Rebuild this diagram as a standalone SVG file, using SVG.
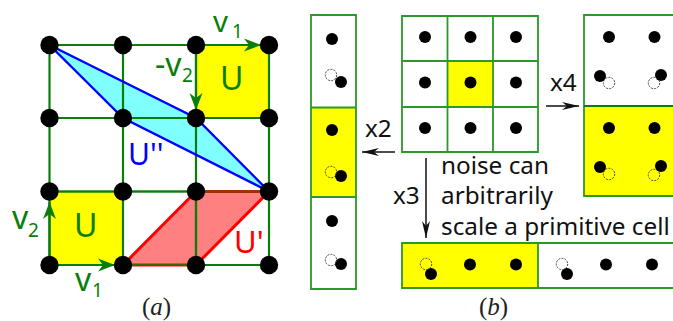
<svg xmlns="http://www.w3.org/2000/svg" width="673" height="321" viewBox="0 0 673 321">
<style>
.g{stroke:#0a7d0a;stroke-width:2.200;fill:none}
.c{stroke:#2b982b;stroke-width:1.800;fill:none}
.d{fill:#000}
.h{fill:none;stroke:#333;stroke-width:.9;stroke-dasharray:2 1.200}
.y{fill:#ffff00}
.t{font-family:"Noto Sans","Open Sans",sans-serif;font-size:24.300px;fill:#111}
.v{font-family:"Noto Sans","Open Sans",sans-serif;fill:#0a7d0a}
.s{font-family:"Liberation Serif",serif;font-size:25px;fill:#222}
.a{stroke:#111;stroke-width:1.500;fill:none}
.r{stroke:#0a7d0a;stroke-width:2.200}
</style>
<defs>
<marker id="ga" markerWidth="18" markerHeight="14" refX="17" refY="7" orient="auto" markerUnits="userSpaceOnUse"><path d="M0 .5L17 7L0 13.500L5 7Z" fill="#0a7d0a"/></marker>
<marker id="ka" markerWidth="18" markerHeight="10" refX="17" refY="5" orient="auto" markerUnits="userSpaceOnUse"><path d="M0 1L17 5L0 9L5 5Z" fill="#111"/></marker>
</defs>
<g id="panel-a-fills">
<rect class="y" x="196" y="45" width="73" height="73"/>
<rect class="y" x="49.500" y="191.500" width="73.500" height="73.500"/>
<polygon points="123,265 196,191.500 269,191.500 196,265" fill="#ff8080"/>
<polygon points="49.500,45 196,118 269,191.500 123,118" fill="#80ffff"/>
</g>
<g id="panel-a-grid" class="g">
<path d="M49.500 45H269M49.500 118H269M49.500 191.500H269M49.500 265H269M49.500 45V265M123 45V265M196 45V265M269 45V265"/>
</g>
<g id="connectors">
<polygon points="49.500,45 196,118 269,191.500 123,118" fill="none" stroke="#0000ff" stroke-width="2.400"/>
<polygon points="123,265 196,191.500 269,191.500 196,265" fill="none" stroke="#ff0000" stroke-width="3"/>
<path d="M49.500 191.500H269M49.500 265H269M196 191.500V265" class="g" opacity=".8"/>
<path d="M196 45H261" class="r" marker-end="url(#ga)"/>
<path d="M196 45V110" class="r" marker-end="url(#ga)"/>
<path d="M49.500 265V202" class="r" marker-end="url(#ga)"/>
<path d="M49.500 265H115" class="r" marker-end="url(#ga)"/>
<path d="M395 152H362" class="a" marker-end="url(#ka)"/>
<path d="M546 106H579" class="a" marker-end="url(#ka)"/>
<path d="M426 158V238" class="a" marker-end="url(#ka)"/>
</g>
<g id="lattice" class="d">
<circle cx="49.500" cy="45" r="9.200"/><circle cx="123" cy="45" r="9.200"/><circle cx="196" cy="45" r="9.200"/><circle cx="269" cy="45" r="9.200"/>
<circle cx="49.500" cy="118" r="9.200"/><circle cx="123" cy="118" r="9.200"/><circle cx="196" cy="118" r="9.200"/><circle cx="269" cy="118" r="9.200"/>
<circle cx="49.500" cy="191.500" r="9.200"/><circle cx="123" cy="191.500" r="9.200"/><circle cx="196" cy="191.500" r="9.200"/><circle cx="269" cy="191.500" r="9.200"/>
<circle cx="49.500" cy="265" r="9.200"/><circle cx="123" cy="265" r="9.200"/><circle cx="196" cy="265" r="9.200"/><circle cx="269" cy="265" r="9.200"/>
</g>
<g id="panel-a-labels">
<text class="v" x="213" y="32" font-size="29.500">v</text><text class="v" x="232" y="38" font-size="19">1</text>
<text class="v" x="155" y="76" font-size="32">-v</text><text class="v" x="182" y="82" font-size="19">2</text>
<text class="v" x="220" y="90" font-size="32">U</text>
<text class="v" x="12" y="229" font-size="32">v</text><text class="v" x="28" y="237" font-size="19">2</text>
<text class="v" x="74" y="237" font-size="32">U</text>
<text class="v" x="75" y="291" font-size="32">v</text><text class="v" x="92" y="297" font-size="19">1</text>
<text x="128" y="165" font-size="30" font-family="Noto Sans,Open Sans,sans-serif" fill="#0000ff">U''</text>
<text x="234" y="253" font-size="31" font-family="Noto Sans,Open Sans,sans-serif" fill="#ff0000">U'</text>
<text class="s" x="142" y="315">(<tspan font-style="italic">a</tspan>)</text>
</g>
<g id="cell-left">
<rect class="y" x="311" y="108" width="45" height="89"/>
<path class="c" d="M311 15H356V289H311ZM311 107.500H356M311 197H356"/>
<g class="d"><circle cx="332" cy="39" r="6"/><circle cx="341" cy="82" r="6"/><circle cx="332" cy="130" r="6"/><circle cx="341" cy="176" r="6"/><circle cx="332" cy="221" r="6"/><circle cx="341" cy="264" r="6"/></g>
<circle class="h" cx="331" cy="75" r="5.700"/><circle class="h" cx="331" cy="172" r="5.700"/><circle class="h" cx="331" cy="260" r="5.700"/>
</g>
<g id="cell-center">
<rect class="y" x="447.500" y="61" width="45.500" height="46"/>
<path class="c" d="M402 16H538V152H402ZM447.500 16V152M493 16V152M402 61H538M402 107H538"/>
<g class="d"><circle cx="425" cy="37" r="6"/><circle cx="470.500" cy="37" r="6"/><circle cx="516" cy="37" r="6"/><circle cx="425" cy="82.500" r="6"/><circle cx="470.500" cy="82.500" r="6"/><circle cx="516" cy="82.500" r="6"/><circle cx="425" cy="128" r="6"/><circle cx="470.500" cy="128" r="6"/><circle cx="516" cy="128" r="6"/></g>
</g>
<g id="cell-right">
<rect class="y" x="584" y="106" width="89" height="90"/>
<path class="c" d="M673 15H584V196H673"/>
<path d="M584 106H673" stroke="#0a7d0a" stroke-width="2.200"/>
<g class="d"><circle cx="609" cy="37" r="6"/><circle cx="654.500" cy="37" r="6"/><circle cx="600" cy="76" r="6"/><circle cx="661" cy="75" r="6"/><circle cx="609" cy="128" r="6"/><circle cx="654.500" cy="128" r="6"/><circle cx="600" cy="167" r="6"/><circle cx="661" cy="166" r="6"/></g>
<circle class="h" cx="609" cy="83" r="5.700"/><circle class="h" cx="654" cy="83" r="5.700"/><circle class="h" cx="609" cy="174" r="5.700"/><circle class="h" cx="654" cy="175" r="5.700"/>
</g>
<g id="cell-bottom">
<rect class="y" x="402" y="243" width="136" height="45"/>
<path class="c" d="M673 243H402V288H673M538 243V288"/>
<g class="d"><circle cx="431" cy="274" r="6"/><circle cx="470" cy="264.500" r="6"/><circle cx="516" cy="264.500" r="6"/><circle cx="567" cy="274" r="6"/><circle cx="606" cy="264.500" r="6"/><circle cx="652" cy="264.500" r="6"/></g>
<circle class="h" cx="426" cy="264" r="5.700"/><circle class="h" cx="562" cy="264" r="5.700"/>
</g>
<g id="panel-b-labels">
<text class="t" x="365" y="137">x2</text>
<text class="t" x="550" y="91">x4</text>
<text class="t" x="393" y="204">x3</text>
<text class="t" x="441" y="174">noise can</text>
<text class="t" x="441" y="204">arbitrarily</text>
<text class="t" x="441" y="235">scale a primitive cell</text>
<text class="s" x="479" y="315">(<tspan font-style="italic">b</tspan>)</text>
</g>
</svg>
